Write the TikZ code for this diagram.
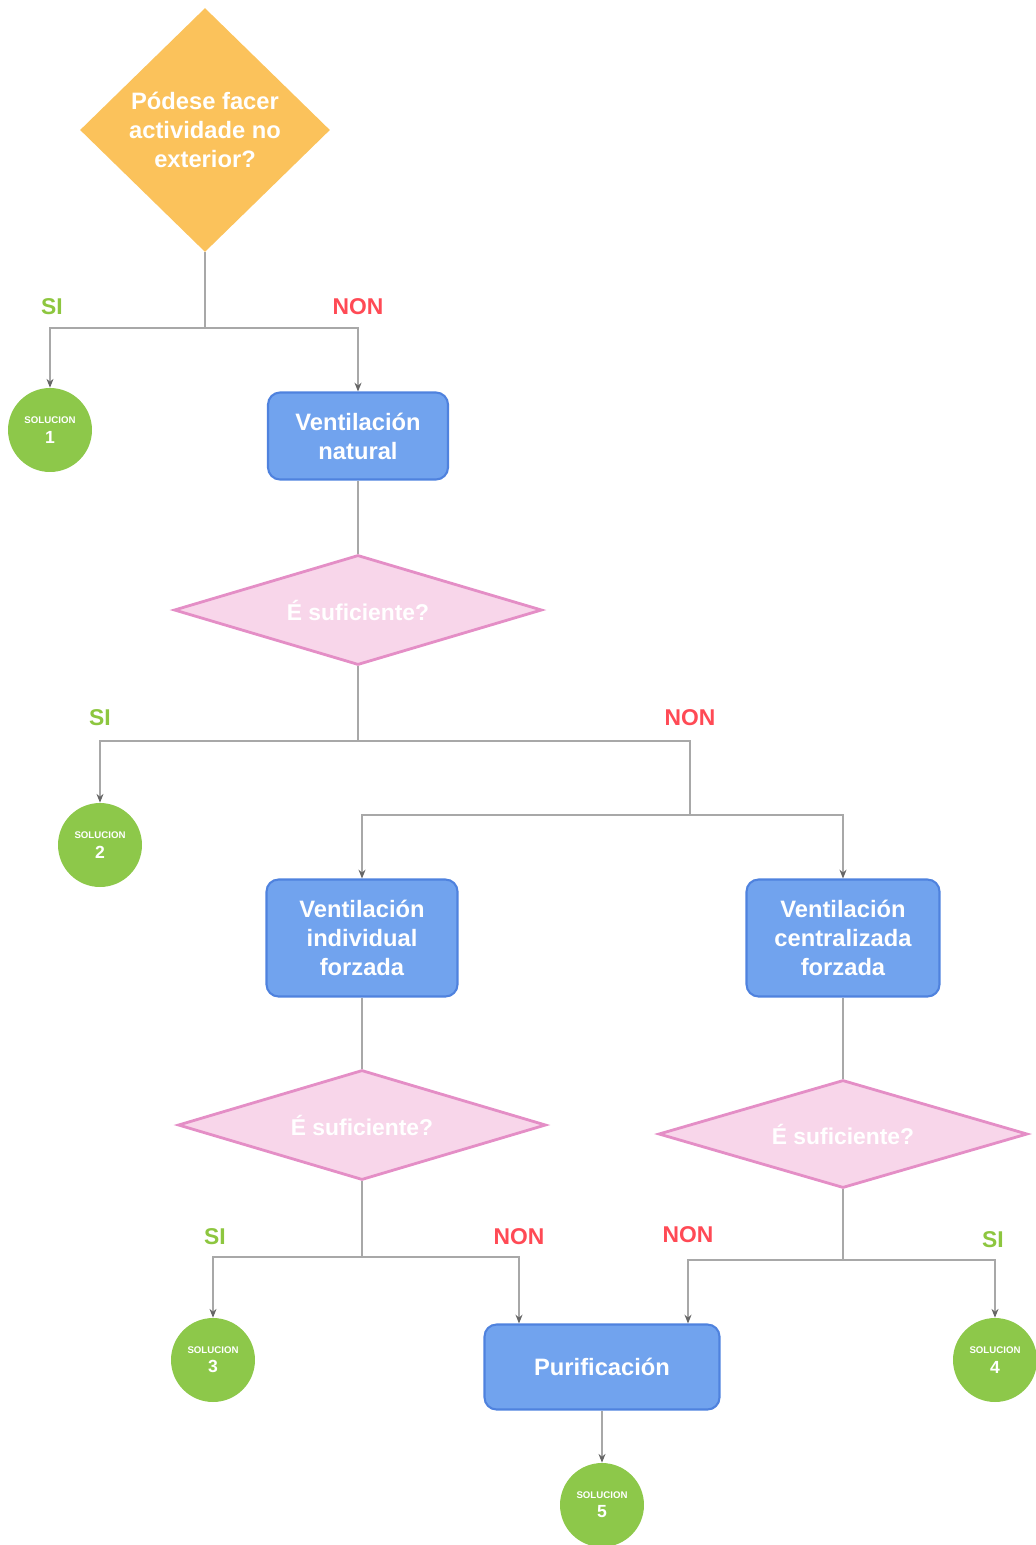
\documentclass[tikz,border=0pt]{standalone}
\usepackage{fontspec}
\setmainfont{Liberation Sans}
\usetikzlibrary{shapes.geometric,arrows.meta}
\definecolor{orangeD}{HTML}{FBC25B}
\definecolor{blueF}{HTML}{71A3EE}
\definecolor{blueB}{HTML}{4F82DE}
\definecolor{pinkF}{HTML}{F8D6EA}
\definecolor{pinkB}{HTML}{E48EC6}
\definecolor{greenC}{HTML}{8DC84A}
\definecolor{siG}{HTML}{8DC63F}
\definecolor{nonR}{HTML}{FF4A55}
\definecolor{lineG}{HTML}{A8A8A8}
\tikzset{
  decision/.style={diamond, fill=orangeD, draw=none, inner sep=0pt, text=white,
    font=\bfseries\fontsize{13.5}{16.5}\selectfont, align=center},
  check/.style={diamond, aspect=3.4, fill=pinkF, draw=pinkB, line width=1.6pt, inner sep=0pt,
    text=white, font=\bfseries\fontsize{13}{15}\selectfont, align=center},
  process/.style={rectangle, rounded corners=0.24cm, fill=blueF, draw=blueB, line width=1.2pt,
    text=white, font=\bfseries\fontsize{13.5}{16.5}\selectfont, align=center},
  sol/.style={circle, fill=greenC, draw=none, minimum size=1.68cm, inner sep=0pt,
    text=white, align=center},
  conn/.style={draw=lineG, line width=0.6pt},
  arr/.style={conn, -{Stealth[length=5pt,width=4pt,color=gray!80!black]}},
  silab/.style={text=siG, font=\bfseries\fontsize{13}{15}\selectfont},
  nonlab/.style={text=nonR, font=\bfseries\fontsize{13}{15}\selectfont},
}
\newcommand{\soltext}[1]{{\fontsize{5.5}{6}\selectfont\bfseries SOLUCION}\\[-1pt]{\fontsize{10}{11}\selectfont\bfseries #1}}
\begin{document}
\begin{tikzpicture}[x=0.02cm,y=-0.02cm]
\useasboundingbox (0,0) rectangle (1035,1545);
% nodes
\node[decision, minimum width=5cm, minimum height=4.88cm] (d0) at (205,130) {Pódese facer\\actividade no\\exterior?};
\node[sol] (s1) at (50,430) {\soltext{1}};
\node[process, minimum width=3.6cm, minimum height=1.74cm] (b1) at (358,436) {Ventilación\\natural};
\node[check, minimum width=7.36cm, minimum height=2.2cm] (c1) at (358,610) {É suficiente?};
\node[sol] (s2) at (100,845) {\soltext{2}};
\node[process, minimum width=3.82cm, minimum height=2.34cm] (b2) at (362,938) {Ventilación\\individual\\forzada};
\node[process, minimum width=3.86cm, minimum height=2.34cm] (b3) at (843,938) {Ventilación\\centralizada\\forzada};
\node[check, minimum width=7.36cm, minimum height=2.2cm] (c2) at (362,1125) {É suficiente?};
\node[check, minimum width=7.38cm, minimum height=2.16cm] (c3) at (843,1134) {É suficiente?};
\node[sol] (s3) at (213,1360) {\soltext{3}};
\node[process, minimum width=4.7cm, minimum height=1.7cm] (b4) at (602,1367) {Purificación};
\node[sol] (s4) at (995,1360) {\soltext{4}};
\node[sol] (s5) at (602,1505) {\soltext{5}};
% junctions
\coordinate (j0) at (205,328);
\coordinate (j1) at (358,741);
\coordinate (j1r) at (690,741);
\coordinate (j2) at (690,815);
\coordinate (j3) at (362,1257);
\coordinate (j4) at (843,1260);
% labels
\node[silab] (l1) at (52,307) {SI};
\node[nonlab] (l2) at (358,307) {NON};
\node[silab] (l3) at (100,718) {SI};
\node[nonlab] (l4) at (690,718) {NON};
\node[silab] (l5) at (215,1237) {SI};
\node[nonlab] (l6) at (519,1237) {NON};
\node[nonlab] (l7) at (688,1235) {NON};
\node[silab] (l8) at (993,1240) {SI};
% connectors
\draw[conn] (d0.south) -- (j0);
\draw[arr] (j0) -| (s1.north);
\draw[arr] (j0) -| (b1.north);
\draw[conn] (b1.south) -- (c1.north);
\draw[conn] (c1.south) -- (j1);
\draw[arr] (j1) -| (s2.north);
\draw[conn] (j1) -- (j1r) -- (j2);
\draw[arr] (j2) -| (b2.north);
\draw[arr] (j2) -| (b3.north);
\draw[conn] (b2.south) -- (c2.north);
\draw[conn] (b3.south) -- (c3.north);
\draw[conn] (c2.south) -- (j3);
\draw[arr] (j3) -| (s3.north);
\draw[arr] (j3) -| ([xshift=-83*0.02cm]b4.north);
\draw[conn] (c3.south) -- (j4);
\draw[arr] (j4) -| ([xshift=86*0.02cm]b4.north);
\draw[arr] (j4) -| (s4.north);
\draw[arr] (b4.south) -- (s5.north);
\end{tikzpicture}
\end{document}
